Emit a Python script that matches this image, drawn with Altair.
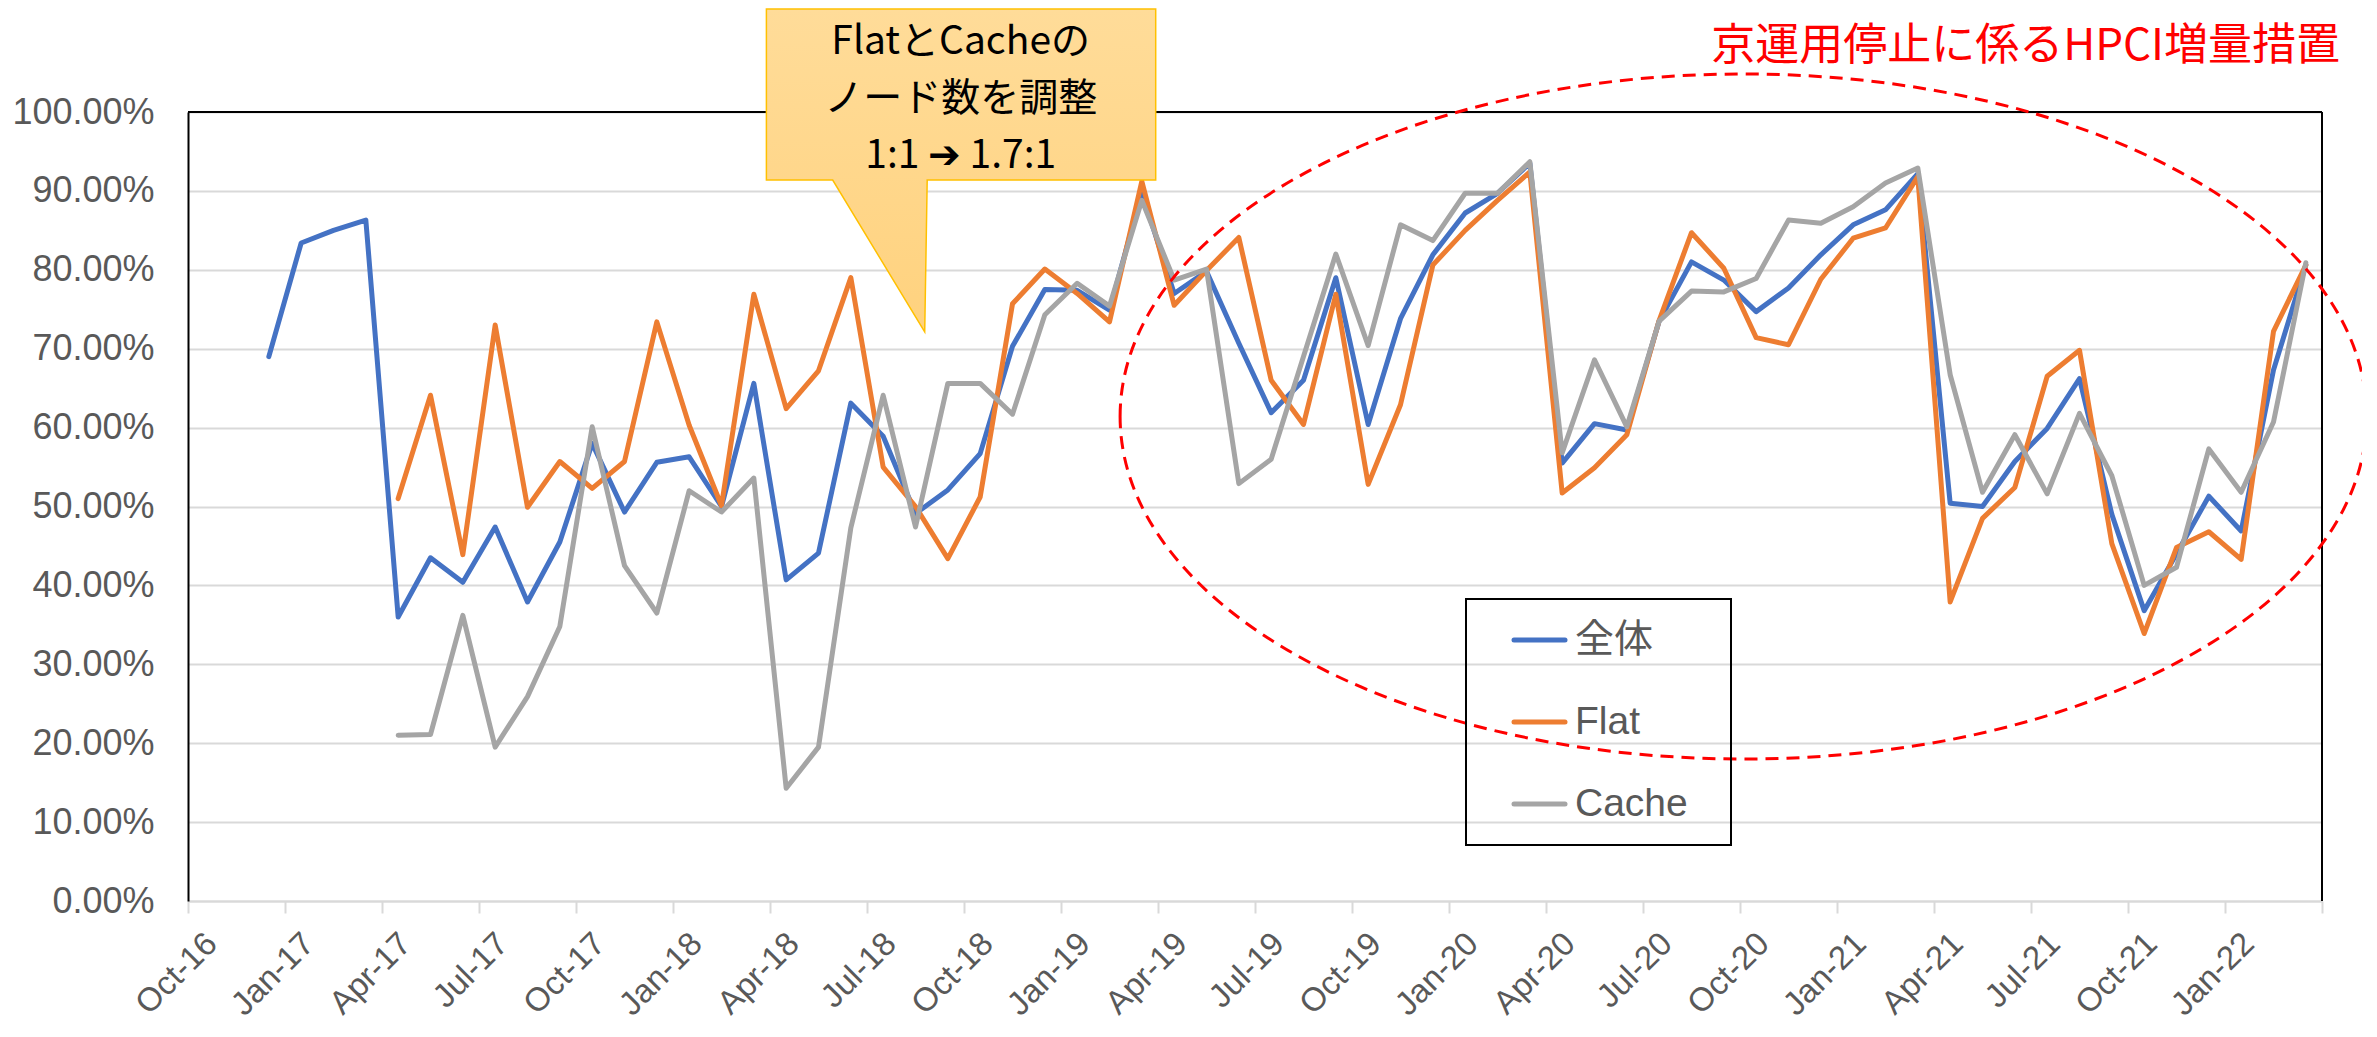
import altair as alt
import pandas as pd

# ---------------- data ----------------
series_names = ["全体", "Flat", "Cache"]
series_colors = ["#4472C4", "#ED7D31", "#A5A5A5"]

tick_labels = ["Oct-16", "Jan-17", "Apr-17", "Jul-17", "Oct-17", "Jan-18", "Apr-18",
               "Jul-18", "Oct-18", "Jan-19", "Apr-19", "Jul-19", "Oct-19", "Jan-20",
               "Apr-20", "Jul-20", "Oct-20", "Jan-21", "Apr-21", "Jul-21", "Oct-21",
               "Jan-22"]

months = pd.period_range("2016-12", "2022-03", freq="M")  # 64 months

zentai = [69.0,
          83.4, 85.0, 86.3, 36.0, 43.5, 40.4, 47.4, 37.9, 45.5, 58.0, 49.3, 55.6,
          56.3, 50.0, 65.6, 40.7, 44.1, 63.1, 58.9, 49.1, 52.1, 56.7, 70.3, 77.5,
          77.4, 74.9, 89.8, 77.0, 79.8, 70.7, 61.9, 66.0, 79.0, 60.4, 73.8, 81.9,
          87.2, 89.7, 93.5, 55.5, 60.5, 59.7, 73.5, 81.0, 78.7, 74.7, 77.7, 81.9,
          85.7, 87.6, 92.2, 50.4, 50.0, 55.7, 59.9, 66.2, 49.0, 36.8, 44.0, 51.3,
          46.9, 67.3, 80.6]

flat = [None, None, None, None,
        51.0, 64.1, 43.9, 73.0, 49.9, 55.7, 52.3, 55.7, 73.4,
        60.3, 50.1, 76.9, 62.4, 67.2, 79.0, 55.0, 50.0, 43.4, 51.2, 75.7, 80.1,
        77.0, 73.4, 91.2, 75.5, 79.9, 84.1, 66.0, 60.4, 76.9, 52.8, 62.9, 80.6,
        85.0, 88.8, 92.4, 51.7, 54.9, 59.1, 73.6, 84.7, 80.2, 71.4, 70.5, 78.8,
        84.0, 85.3, 91.8, 37.9, 48.5, 52.4, 66.5, 69.8, 45.3, 33.9, 44.8, 46.8,
        43.3, 72.2, 80.6]

cache = [None, None, None, None,
         21.0, 21.1, 36.2, 19.5, 25.9, 34.8, 60.1, 42.5, 36.5,
         52.0, 49.3, 53.6, 14.3, 19.5, 47.3, 64.1, 47.4, 65.6, 65.6, 61.7, 74.3,
         78.3, 75.4, 88.8, 78.7, 80.1, 52.9, 56.0, 69.0, 82.0, 70.4, 85.7, 83.7,
         89.7, 89.7, 93.7, 56.8, 68.6, 60.1, 73.5, 77.3, 77.2, 78.9, 86.3, 85.9,
         88.0, 91.0, 92.9, 66.7, 51.8, 59.1, 51.6, 61.8, 53.9, 40.0, 42.3, 57.3,
         51.8, 60.7, 80.9]

callout_lines = ["FlatとCacheの", "ノード数を調整", "1:1 ➔ 1.7:1"]
red_note = "京運用停止に係るHPCI増量措置"

rows = []
for name, vals in zip(series_names, [zentai, flat, cache]):
    for p, v in zip(months, vals):
        if v is None:
            continue
        pos = (p.year - 2016) * 12 + (p.month - 10) + 0.5  # months since Oct-16, mid-month
        rows.append({"pos": pos, "value": v / 100.0, "series": name})
df = pd.DataFrame(rows)

# ---------------- layout ----------------
W, H = 2134, 789
LABEL_FONT = "Liberation Sans"
CJK_FONT = "Noto Sans CJK JP"
GRAY_TXT = "#595959"

x_scale = alt.Scale(domain=[0, 66], nice=False, zero=False)
y_scale = alt.Scale(domain=[0, 1], nice=False)
c_scale = alt.Scale(domain=series_names, range=series_colors)

labels_js = "[" + ",".join("'%s'" % t for t in tick_labels) + "]"
x_axis = alt.Axis(values=list(range(0, 67, 3)),
                  labelExpr="datum.value < 66 ? %s[round(datum.value / 3)] : ''" % labels_js,
                  labelAngle=-45, labelAlign="right", labelBaseline="top",
                  labelFont=LABEL_FONT, labelFontSize=33, labelColor=GRAY_TXT,
                  labelPadding=14, labelOffset=12, labelOverlap=False, labelFlush=False,
                  labelBound=False,
                  tickColor="#D9D9D9", tickSize=12, tickWidth=2,
                  domainColor="#D9D9D9", domainWidth=2, grid=False, title="")
y_axis = alt.Axis(values=[i / 10 for i in range(11)], format=".2%",
                  labelFont=LABEL_FONT, labelFontSize=36, labelColor=GRAY_TXT,
                  labelPadding=34, ticks=False, domainColor="black", domainWidth=2,
                  grid=True, gridColor="#D9D9D9", gridWidth=2, title="")

layers = []
for name in series_names:
    layers.append(
        alt.Chart(df).transform_filter(alt.datum.series == name)
        .mark_line(strokeWidth=5, strokeJoin="round", strokeCap="round")
        .encode(x=alt.X("pos:Q", scale=x_scale, axis=x_axis),
                y=alt.Y("value:Q", scale=y_scale, axis=y_axis),
                color=alt.Color("series:N", scale=c_scale, legend=None))
    )

one = pd.DataFrame({"k": [0]})

# plot frame (top and right)
layers.append(alt.Chart(one).mark_rule(color="black", strokeWidth=2)
              .encode(x=alt.value(0), x2=alt.value(W), y=alt.value(0)))
layers.append(alt.Chart(one).mark_rule(color="black", strokeWidth=2)
              .encode(x=alt.value(W), y=alt.value(0), y2=alt.value(H)))

# red dashed ellipse
b = 0.5495
k = 0.5523
ell = ("M -1 0 C -1 {nkb} {nk} {nb} 0 {nb} C {k} {nb} 1 {nkb} 1 0 "
       "C 1 {kb} {k} {b} 0 {b} C {nk} {b} -1 {kb} -1 0 Z").format(
    k=k, nk=-k, b=b, nb=-b, kb=round(k * b, 4), nkb=-round(k * b, 4))
layers.append(alt.Chart(one).mark_point(shape=ell, size=1246.6 ** 2, filled=False,
                                        color="#FF0000", strokeWidth=3,
                                        strokeDash=[13, 8], opacity=1)
              .encode(x=alt.value(1555.4), y=alt.value(304.5)))

# custom legend
layers.append(alt.Chart(one).mark_rect(filled=False, stroke="black", strokeWidth=2)
              .encode(x=alt.value(1278), x2=alt.value(1543),
                      y=alt.value(487), y2=alt.value(733)))
for i, (name, col) in enumerate(zip(series_names, series_colors)):
    yy = 528 + 82 * i
    layers.append(alt.Chart(one).mark_rule(color=col, strokeWidth=5, strokeCap="round")
                  .encode(x=alt.value(1326), x2=alt.value(1377), y=alt.value(yy)))
    layers.append(alt.Chart(one).mark_text(text=name, align="left", baseline="middle",
                                           font=LABEL_FONT + ", " + CJK_FONT,
                                           fontSize=39, color=GRAY_TXT)
                  .encode(x=alt.value(1387), y=alt.value(yy)))

# callout box with pointer
callout = ("M -1 -0.8297 L 1 -0.8297 L 1 0.0488 L -0.1739 0.0488 "
           "L -0.1867 0.8297 L -0.6594 0.0488 L -1 0.0488 Z")
grad = alt.Gradient(gradient="linear",
                    stops=[alt.GradientStop(color="#FFDC99", offset=0),
                           alt.GradientStop(color="#FFD27E", offset=1)],
                    x1=0, x2=0, y1=0, y2=1)
layers.append(alt.Chart(one).mark_point(shape=callout, size=389.3 ** 2, filled=True,
                                        fill=grad, stroke="#FFC000", strokeWidth=1.5,
                                        opacity=1, fillOpacity=1)
              .encode(x=alt.value(773.05), y=alt.value(58.5)))
layers.append(alt.Chart(one).mark_text(text=callout_lines, align="center",
                                       baseline="alphabetic", lineHeight=57,
                                       font=CJK_FONT + ", DejaVu Sans",
                                       fontSize=39, color="black")
              .encode(x=alt.value(772.7), y=alt.value(-58)))

# red note
layers.append(alt.Chart(one).mark_text(text=red_note, align="right", baseline="alphabetic",
                                       font=CJK_FONT, fontSize=44, color="#FF0000")
              .encode(x=alt.value(2152), y=alt.value(-52)))

chart = alt.layer(*layers).properties(
    width=W, height=H,
    padding={"left": 180, "top": 104, "right": 40, "bottom": 121},
    autosize=alt.AutoSizeParams(type="none"),
    background="white",
).configure_view(strokeWidth=0)

chart.save("out.html", embed_options={"renderer": "svg", "actions": False})
